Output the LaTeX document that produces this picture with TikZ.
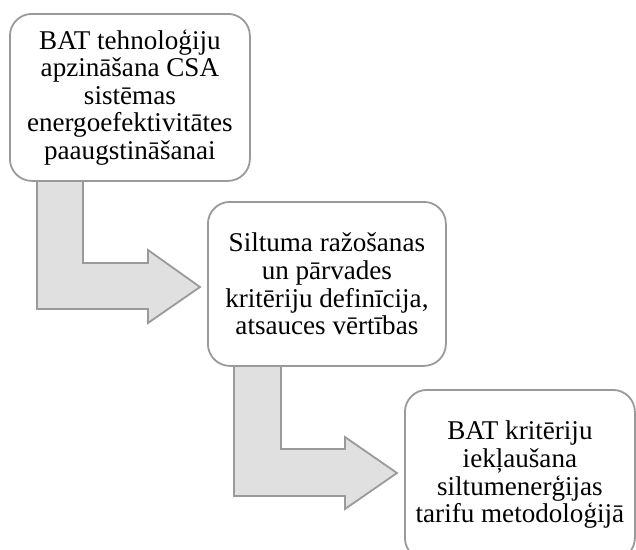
\documentclass[tikz,border=0pt]{standalone}
\usepackage{fontspec}
\setmainfont{Liberation Serif}
\begin{document}
\begin{tikzpicture}[x=1pt,y=-1pt,
  stepbox/.style={draw=boxgray, line width=1.8pt, fill=white, rounded corners=22pt,
    anchor=north west, inner sep=0pt, align=center,
    font=\fontsize{27.1}{27.6}\selectfont},
  bentarrow/.style={draw=boxgray, line width=1.8pt, fill=arrowfill}]
\definecolor{boxgray}{HTML}{9A9A9A}
\definecolor{arrowfill}{HTML}{E0E0E0}
\useasboundingbox (0,0) rectangle (636,549);
\clip (0,0) rectangle (636,549);
% bent arrows
\draw[bentarrow] (37,178) -- (83,178) -- (83,263) -- (148,263) -- (148,250) -- (200,287)
  -- (148,323) -- (148,309) -- (37,309) -- cycle;
\draw[bentarrow] (234,363) -- (281,363) -- (281,449) -- (345,449) -- (345,437) -- (397,473)
  -- (345,509) -- (345,496) -- (234,496) -- cycle;
% boxes
\node[stepbox, minimum width=240pt, minimum height=167pt] (b1) at (9,13)
  {BAT tehnoloģiju\\apzināšana CSA\\sistēmas\\energoefektivitātes\\paaugstināšanai};
\node[stepbox, minimum width=238pt, minimum height=164pt] (b2) at (207,201)
  {Siltuma ražošanas\\un pārvades\\kritēriju definīcija,\\atsauces vērtības};
\node[stepbox, minimum width=230pt, minimum height=170pt] (b3) at (404,389)
  {BAT kritēriju\\iekļaušana\\siltumenerģijas\\tarifu metodoloģijā};
\end{tikzpicture}
\end{document}
